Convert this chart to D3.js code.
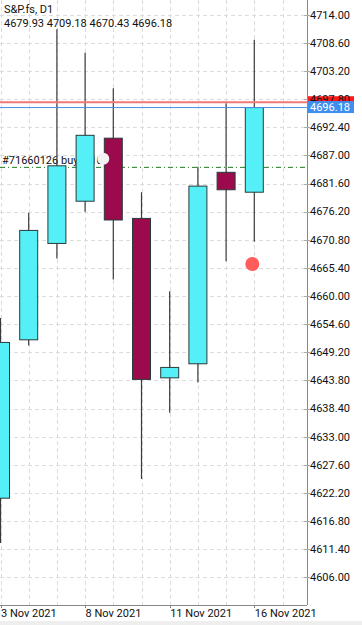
<!DOCTYPE html>
<html>
<head>
<meta charset="utf-8">
<script src="https://cdn.jsdelivr.net/npm/d3@7"></script>
<style>
	body { margin: 0; background: #fff; }
	svg { display: block; font-family: Roboto, "Noto Sans", sans-serif; }
</style>
</head>
<body>
<script>
'use strict';

// daily candles, S&P.fs D1
const dates = ["3 Nov 2021", "4 Nov 2021", "5 Nov 2021", "8 Nov 2021", "9 Nov 2021",
	"10 Nov 2021", "11 Nov 2021", "12 Nov 2021", "15 Nov 2021", "16 Nov 2021"];
const opens = [4621.2, 4651.6, 4670.1, 4678.2, 4690.3, 4674.9, 4644.3, 4647.0, 4683.75, 4679.93];
const highs = [4655.8, 4676.0, 4711.2, 4706.7, 4699.9, 4679.9, 4660.9, 4684.8, 4697.0, 4709.18];
const lows = [4612.6, 4650.5, 4667.2, 4676.2, 4663.2, 4624.9, 4637.6, 4643.4, 4666.7, 4670.43];
const closes = [4651.1, 4672.6, 4685.0, 4690.85, 4674.6, 4644.0, 4646.3, 4681.1, 4680.4, 4696.18];

const dateTicks = ["3 Nov 2021", "8 Nov 2021", "11 Nov 2021", "16 Nov 2021"];
const priceTicks = [4714.00, 4708.60, 4703.20, 4697.80, 4692.40, 4687.00, 4681.60, 4676.20,
	4670.80, 4665.40, 4660.00, 4654.60, 4649.20, 4643.80, 4638.40, 4633.00, 4627.60,
	4622.20, 4616.80, 4611.40, 4606.00];

const title = "S&P.fs, D1";
const bidPrice = 4696.18;
const askPrice = 4697.20;
const orderPrice = 4684.70;
const orderText = "#71660126 buy 0.10";
const orderMark = { idx: 3.645, price: 4686.36 };
const alertMark = { idx: 8.93, price: 4666.15 };

const params = {
	width: 362,
	height: 625,
	plotRight: 307,
	plotBottom: 605,
	step: 28.2
};

const makeScales = () => {
	const xScale = d3.scaleLinear()
		.domain([0, 10])
		.range([0.5, 0.5 + 10 * params.step]);
	const yScale = d3.scaleLinear()
		.domain([4606, 4714])
		.range([577.4, 14.7]);
	return [xScale, yScale];
}

const svg = d3.select("body").append("svg")
	.attr("width", params.width)
	.attr("height", params.height);

const [x, y] = makeScales();
const candles = dates.map((d, i) => ({
	date: d, i: i, o: opens[i], h: highs[i], l: lows[i], c: closes[i]
}));

// grid
const grid = svg.append("g")
	.attr("stroke", "#dcdcdc")
	.attr("stroke-dasharray", "4,3")
	.attr("stroke-width", 1);
grid.selectAll("line.h").data(priceTicks).join("line")
	.attr("class", "h")
	.attr("x1", 0).attr("x2", params.plotRight)
	.attr("y1", d => Math.round(y(d)) + 0.5).attr("y2", d => Math.round(y(d)) + 0.5);
grid.selectAll("line.v").data(d3.range(0, 11)).join("line")
	.attr("class", "v")
	.attr("x1", d => Math.round(x(d)) + 0.5).attr("x2", d => Math.round(x(d)) + 0.5)
	.attr("y1", 0).attr("y2", params.plotBottom);

// order line and its label
svg.append("line")
	.attr("x1", 0).attr("x2", params.plotRight)
	.attr("y1", y(orderPrice)).attr("y2", y(orderPrice))
	.attr("stroke", "#1f7a1f")
	.attr("stroke-width", 1)
	.attr("stroke-dasharray", "5,3,1,3");
svg.append("text")
	.attr("x", 2).attr("y", y(orderPrice) - 3)
	.attr("font-size", 11).attr("fill", "#111")
	.text(orderText);

// candles
const cg = svg.append("g").selectAll("g").data(candles).join("g");
cg.append("line")
	.attr("x1", d => x(d.i)).attr("x2", d => x(d.i))
	.attr("y1", d => y(d.h)).attr("y2", d => y(d.l))
	.attr("stroke", "#3a3a3a")
	.attr("stroke-width", 1.2);
cg.append("rect")
	.attr("x", d => x(d.i) - 9)
	.attr("width", 18)
	.attr("y", d => y(Math.max(d.o, d.c)))
	.attr("height", d => Math.abs(y(d.o) - y(d.c)))
	.attr("fill", d => d.c >= d.o ? "#55f0f7" : "#9b0a4c")
	.attr("stroke", "#2b3a3a")
	.attr("stroke-width", 1);

// markers
svg.append("circle")
	.attr("cx", x(orderMark.idx)).attr("cy", y(orderMark.price))
	.attr("r", 6).attr("fill", "#f4f4f4");
svg.append("circle")
	.attr("cx", x(alertMark.idx)).attr("cy", y(alertMark.price))
	.attr("r", 7).attr("fill", "#ff4a4a").attr("opacity", 0.9);

// ask & bid lines
svg.append("line")
	.attr("x1", 0).attr("x2", params.plotRight)
	.attr("y1", y(askPrice)).attr("y2", y(askPrice))
	.attr("stroke", "#f07878").attr("stroke-width", 2);
svg.append("line")
	.attr("x1", 0).attr("x2", params.plotRight)
	.attr("y1", y(bidPrice)).attr("y2", y(bidPrice))
	.attr("stroke", "#4a90e2").attr("stroke-width", 1);

// axes frame
svg.append("line")
	.attr("x1", params.plotRight + 0.5).attr("x2", params.plotRight + 0.5)
	.attr("y1", 0).attr("y2", params.plotBottom)
	.attr("stroke", "#888");
svg.append("line")
	.attr("x1", 0).attr("x2", params.plotRight)
	.attr("y1", params.plotBottom + 0.5).attr("y2", params.plotBottom + 0.5)
	.attr("stroke", "#888");

// price axis
const pAxis = svg.append("g").attr("font-size", 11).attr("fill", "#111");
pAxis.selectAll("line").data(priceTicks).join("line")
	.attr("x1", params.plotRight - 3).attr("x2", params.plotRight + 3)
	.attr("y1", d => Math.round(y(d)) + 0.5).attr("y2", d => Math.round(y(d)) + 0.5)
	.attr("stroke", "#aaa");
pAxis.append("rect")
	.attr("x", 308).attr("width", 46)
	.attr("y", y(askPrice) - 6).attr("height", 12)
	.attr("fill", "#ff1a1a");
pAxis.selectAll("text").data(priceTicks).join("text")
	.attr("x", 310).attr("y", d => y(d))
	.attr("dy", "0.35em")
	.text(d => d.toFixed(2));
pAxis.append("rect")
	.attr("x", 308).attr("width", 46)
	.attr("y", y(bidPrice) - 6.5).attr("height", 12)
	.attr("fill", "#3f8ff0");
pAxis.append("text")
	.attr("x", 310).attr("y", y(bidPrice))
	.attr("dy", "0.35em").attr("fill", "#fff")
	.text(bidPrice.toFixed(2));

// date axis
const dAxis = svg.append("g").attr("font-size", 11).attr("fill", "#111");
const tickIdx = dateTicks.map(t => dates.indexOf(t));
dAxis.selectAll("line").data(tickIdx).join("line")
	.attr("x1", d => Math.round(x(d)) + 0.5).attr("x2", d => Math.round(x(d)) + 0.5)
	.attr("y1", params.plotBottom).attr("y2", params.plotBottom + 3)
	.attr("stroke", "#888");
dAxis.selectAll("text").data(tickIdx).join("text")
	.attr("x", d => x(d) + 0.5).attr("y", 617)
	.text(d => dates[d]);

// header
svg.append("text").attr("x", 4).attr("y", 13)
	.attr("font-size", 11).attr("fill", "#111").text(title);
svg.append("text").attr("x", 4).attr("y", 27)
	.attr("font-size", 11).attr("fill", "#111")
	.text([opens[9], highs[9], lows[9], closes[9]].map(v => v.toFixed(2)).join(" "));

svg.append("rect").attr("x", 0).attr("y", 621).attr("width", params.width).attr("height", 4)
	.attr("fill", "#eeeeee");
</script>
</body>
</html>
